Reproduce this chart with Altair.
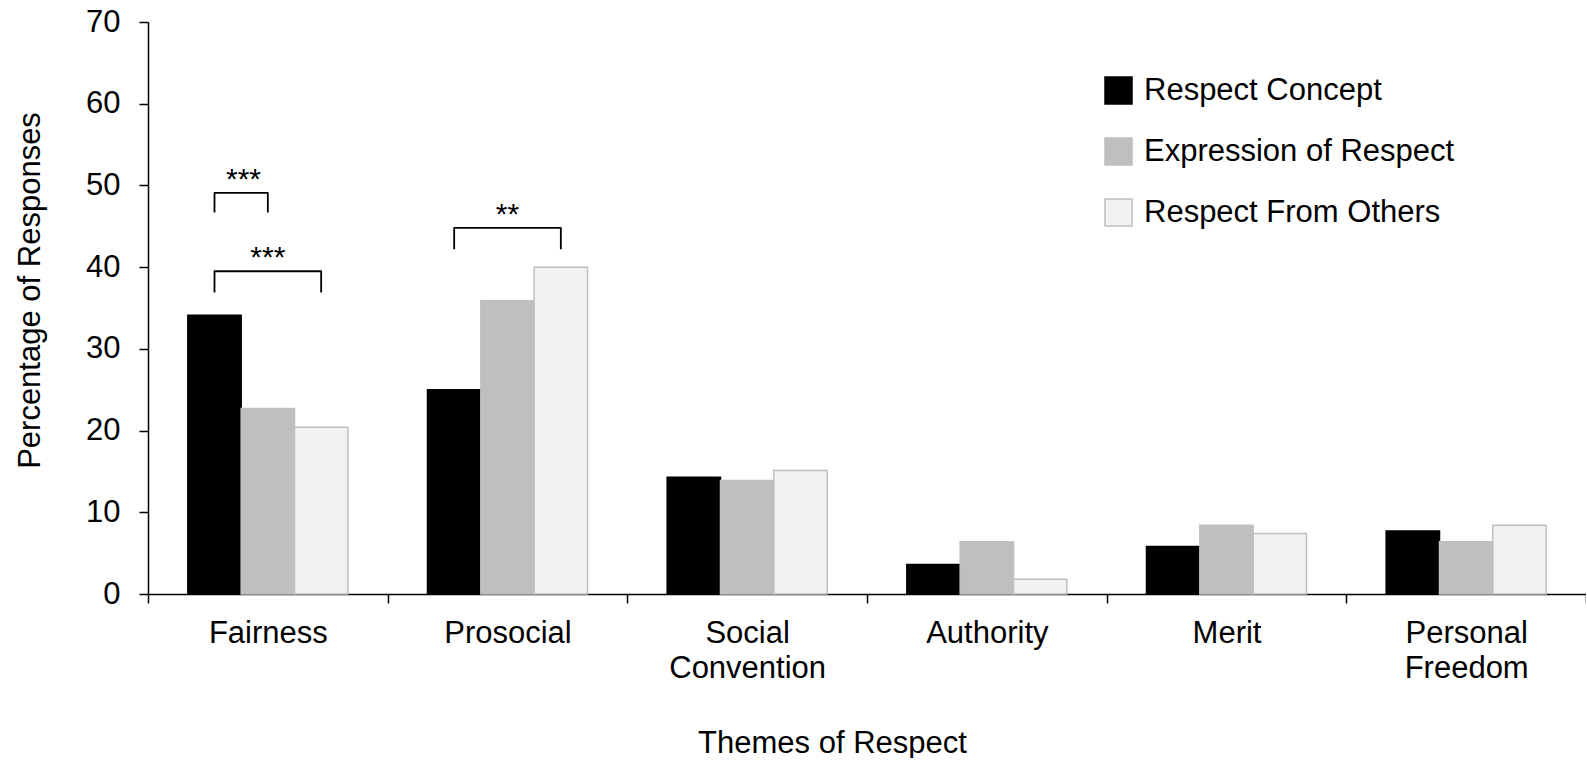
import altair as alt
import pandas as pd

# Themes and response series
themes = ["Fairness", "Prosocial", "Social Convention", "Authority", "Merit", "Personal Freedom"]
series = ["Respect Concept", "Expression of Respect", "Respect From Others"]

# Percentage of responses per theme
respect_concept = [34.1, 25.0, 14.3, 3.6, 5.8, 7.7]
expression_of_respect = [22.7, 35.9, 13.9, 6.4, 8.4, 6.4]
respect_from_others = [20.4, 40.0, 15.1, 1.8, 7.4, 8.4]

fills = ["#000000", "#bfbfbf", "#f2f2f2"]
strokes = ["#000000", "#bfbfbf", "#bfbfbf"]

# Significance brackets: theme, compared series, heights, stars
sig_theme = ["Fairness", "Fairness", "Prosocial"]
sig_from = ["Respect Concept", "Respect Concept", "Respect Concept"]
sig_to = ["Expression of Respect", "Respect From Others", "Respect From Others"]
sig_top = [49.1, 39.5, 44.8]
sig_foot = [46.7, 36.9, 42.2]
sig_stars = ["***", "***", "**"]

FONT = "Liberation Sans"

bars = pd.DataFrame(
    [
        {"theme": t, "series": s, "value": v}
        for s, vals in zip(series, [respect_concept, expression_of_respect, respect_from_others])
        for t, v in zip(themes, vals)
    ]
)

bracket_rows = []
for i, (t, a, b, top, foot) in enumerate(zip(sig_theme, sig_from, sig_to, sig_top, sig_foot)):
    for k, (s, y) in enumerate([(a, foot), (a, top), (b, top), (b, foot)]):
        bracket_rows.append({"bracket": i, "step": k, "theme": t, "series": s, "value": y})
brackets = pd.DataFrame(bracket_rows)

# Star labels: brackets spanning three bars are centred over the middle bar,
# brackets over two neighbouring bars sit between them.
star_rows = []
for t, a, b, top, st in zip(sig_theme, sig_from, sig_to, sig_top, sig_stars):
    ia, ib = series.index(a), series.index(b)
    star_rows.append(
        {"theme": t, "series": series[(ia + ib) // 2], "value": top, "stars": st, "span": ib - ia}
    )
stars = pd.DataFrame(star_rows)

x_scale = alt.Scale(domain=themes, paddingInner=0, paddingOuter=0)
xo_scale = alt.Scale(domain=series, paddingInner=0, paddingOuter=0.747)
y_scale = alt.Scale(domain=[0, 70], nice=False)

legend = alt.Legend(
    orient="none",
    legendX=955,
    legendY=53,
    title=None,
    symbolType="square",
    symbolSize=729,
    symbolStrokeWidth=1.5,
    labelFontSize=31,
    labelFont=FONT,
    labelColor="#000000",
    labelLimit=0,
    labelOffset=10,
    rowPadding=28,
    padding=0,
)

x_enc = alt.X(
    "theme:N",
    sort=themes,
    scale=x_scale,
    axis=alt.Axis(
        title="Themes of Respect",
        tickBand="extent",
        tickSize=9,
        tickWidth=1.5,
        tickColor="#000000",
        domainColor="#000000",
        domainWidth=1.5,
        labelAngle=0,
        labelPadding=15,
        labelFontSize=31,
        labelFont=FONT,
        labelColor="#000000",
        labelLineHeight=35,
        labelExpr="split(datum.label, ' ')",
        titleFontSize=31,
        titleFont=FONT,
        titleFontWeight="normal",
        titleColor="#000000",
        titleX=684,
        titleY=134,
        titleBaseline="top",
        grid=False,
    ),
)

y_enc = alt.Y(
    "value:Q",
    scale=y_scale,
    axis=alt.Axis(
        title="Percentage of Responses",
        values=[0, 10, 20, 30, 40, 50, 60, 70],
        tickSize=9,
        tickWidth=1.5,
        tickColor="#000000",
        domainColor="#000000",
        domainWidth=1.5,
        labelPadding=19,
        labelFontSize=31,
        labelFont=FONT,
        labelColor="#000000",
        titleFontSize=31,
        titleFont=FONT,
        titleFontWeight="normal",
        titleColor="#000000",
        titleX=-118,
        titleY=268,
        titleAlign="center",
        titleBaseline="middle",
        grid=False,
    ),
)

xo_enc = alt.XOffset("series:N", sort=series, scale=xo_scale)

bar_layer = alt.Chart(bars).mark_bar(strokeWidth=1.5).encode(
    fill=alt.Fill("series:N", sort=series, scale=alt.Scale(domain=series, range=fills), legend=legend),
    stroke=alt.Stroke("series:N", sort=series, scale=alt.Scale(domain=series, range=strokes), legend=legend),
)

bracket_layer = alt.Chart(brackets).mark_line(
    color="#000000", strokeWidth=1.8, strokeJoin="round"
).encode(
    detail="bracket:N",
    order="step:O",
)

stars_wide = alt.Chart(stars).transform_filter("datum.span == 2").mark_text(
    font=FONT, fontSize=30, color="#000000", baseline="alphabetic", dy=-4
).encode(text="stars:N")

stars_narrow = alt.Chart(stars).transform_filter("datum.span == 1").mark_text(
    font=FONT, fontSize=30, color="#000000", baseline="alphabetic", dy=-4, dx=29
).encode(text="stars:N")

chart = (
    alt.layer(bar_layer, bracket_layer, stars_wide, stars_narrow)
    .encode(x=x_enc, xOffset=xo_enc, y=y_enc)
    .properties(
        width=1438,
        height=572,
        autosize=alt.AutoSizeParams(type="none"),
        padding={"left": 148, "top": 22, "right": 0, "bottom": 164},
    )
    .configure(font=FONT, background="#ffffff", view=alt.ViewConfig(stroke=None))
)

chart.save("out.html", embed_options={"renderer": "svg", "actions": False})
